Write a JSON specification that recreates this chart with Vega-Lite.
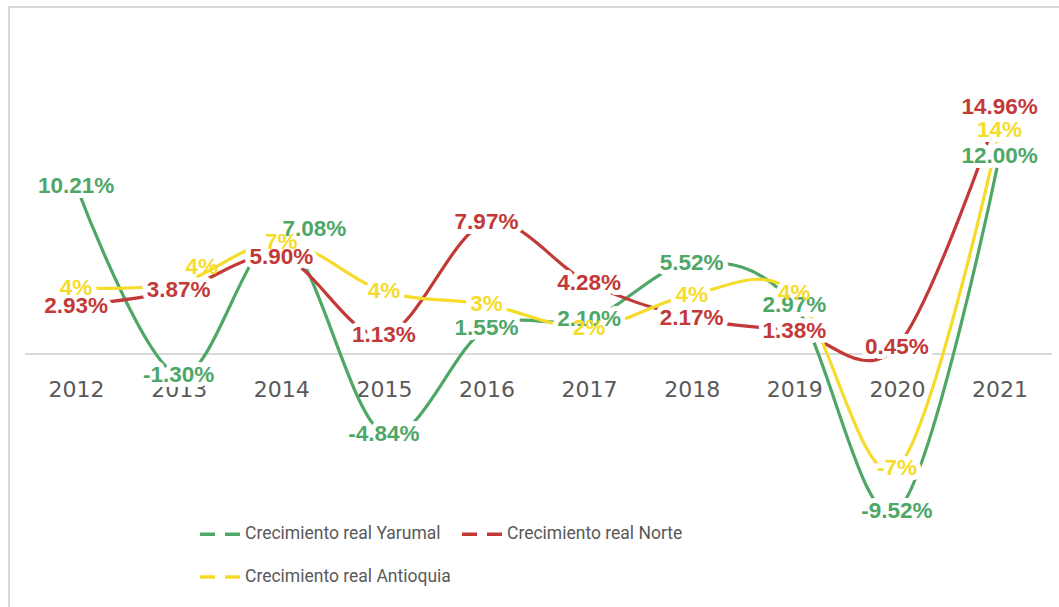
{
  "$schema": "https://vega.github.io/schema/vega-lite/v6.json",
  "autosize": "none",
  "padding": {"left": 9, "top": 7, "right": 0, "bottom": 0},
  "width": 1055,
  "height": 608,
  "config": {
    "view": {"stroke": "#d9d9d9", "strokeWidth": 2},
    "locale": {"number": {"decimal": ".", "thousands": ",", "grouping": [3], "currency": ["$", ""], "minus": "-"}},
    "legend": {"symbolType": "stroke"}
  },
  "data": {"values": [
    {"year": "2012", "series": "Crecimiento real Yarumal", "value": 0.1021},
    {"year": "2013", "series": "Crecimiento real Yarumal", "value": -0.0130},
    {"year": "2014", "series": "Crecimiento real Yarumal", "value": 0.0708},
    {"year": "2015", "series": "Crecimiento real Yarumal", "value": -0.0484},
    {"year": "2016", "series": "Crecimiento real Yarumal", "value": 0.0155},
    {"year": "2017", "series": "Crecimiento real Yarumal", "value": 0.0210},
    {"year": "2018", "series": "Crecimiento real Yarumal", "value": 0.0552},
    {"year": "2019", "series": "Crecimiento real Yarumal", "value": 0.0297},
    {"year": "2020", "series": "Crecimiento real Yarumal", "value": -0.0952},
    {"year": "2021", "series": "Crecimiento real Yarumal", "value": 0.1200},
    {"year": "2012", "series": "Crecimiento real Norte", "value": 0.0293},
    {"year": "2013", "series": "Crecimiento real Norte", "value": 0.0387},
    {"year": "2014", "series": "Crecimiento real Norte", "value": 0.0590},
    {"year": "2015", "series": "Crecimiento real Norte", "value": 0.0113},
    {"year": "2016", "series": "Crecimiento real Norte", "value": 0.0797},
    {"year": "2017", "series": "Crecimiento real Norte", "value": 0.0428},
    {"year": "2018", "series": "Crecimiento real Norte", "value": 0.0217},
    {"year": "2019", "series": "Crecimiento real Norte", "value": 0.0138},
    {"year": "2020", "series": "Crecimiento real Norte", "value": 0.0045},
    {"year": "2021", "series": "Crecimiento real Norte", "value": 0.1496},
    {"year": "2012", "series": "Crecimiento real Antioquia", "value": 0.040},
    {"year": "2013", "series": "Crecimiento real Antioquia", "value": 0.043},
    {"year": "2014", "series": "Crecimiento real Antioquia", "value": 0.068},
    {"year": "2015", "series": "Crecimiento real Antioquia", "value": 0.038},
    {"year": "2016", "series": "Crecimiento real Antioquia", "value": 0.030},
    {"year": "2017", "series": "Crecimiento real Antioquia", "value": 0.016},
    {"year": "2018", "series": "Crecimiento real Antioquia", "value": 0.036},
    {"year": "2019", "series": "Crecimiento real Antioquia", "value": 0.037},
    {"year": "2020", "series": "Crecimiento real Antioquia", "value": -0.069},
    {"year": "2021", "series": "Crecimiento real Antioquia", "value": 0.136}
  ]},
  "encoding": {
    "x": {
      "field": "year", "type": "ordinal",
      "scale": {"type": "point", "padding": 0.641, "align": 0.51},
      "axis": {"title": null, "domain": false, "ticks": false, "grid": false, "labelAngle": 0,
               "labelFont": "DejaVu Sans", "labelFontSize": 22, "labelColor": "#595959",
               "offset": -261, "labelPadding": 25}
    },
    "y": {
      "field": "value", "type": "quantitative",
      "scale": {"domain": [-0.1582, 0.2103], "nice": false, "zero": false},
      "axis": null
    }
  },
  "layer": [
    {
      "mark": {"type": "rule", "color": "#d9d9d9", "strokeWidth": 2, "xOffset": -51, "x2Offset": 52},
      "encoding": {
        "x": {"datum": "2012", "type": "ordinal"},
        "x2": {"datum": "2021"},
        "y": {"datum": 0, "type": "quantitative"}
      }
    },
    {
      "mark": {"type": "line", "interpolate": "cardinal", "strokeWidth": 3.2, "strokeCap": "round"},
      "encoding": {
        "color": {
          "field": "series", "type": "nominal",
          "scale": {"domain": ["Crecimiento real Yarumal", "Crecimiento real Norte", "Crecimiento real Antioquia"],
                    "range": ["#4ea767", "#c23a38", "#f6dc2a"]},
          "legend": {
            "title": null, "orient": "none", "legendX": 189, "legendY": 505, "direction": "horizontal",
            "columns": 2, "columnPadding": 4, "rowPadding": 12, "padding": 0,
            "symbolType": "stroke", "symbolSize": 1600, "symbolStrokeWidth": 3.5, "symbolDash": [15, 10],
            "labelFont": "Roboto", "labelFontSize": 17.5, "labelColor": "#595959",
            "labelOffset": 3, "labelLimit": 400
          }
        },
        "order": {"field": "year"}
      }
    },
    {
      "transform": [{"filter": "datum.series !== 'Crecimiento real Antioquia'"}],
      "mark": {"type": "text", "font": "Liberation Sans", "fontWeight": "bold", "fontSize": 22.5,
               "align": "center", "baseline": "middle", "fill": "white", "stroke": "white", "strokeWidth": 10, "strokeJoin": "round"},
      "encoding": {"text": {"field": "value", "type": "quantitative", "format": ".2%"}}
    },
    {
      "transform": [{"filter": "datum.series === 'Crecimiento real Antioquia'"}],
      "mark": {"type": "text", "font": "Liberation Sans", "fontWeight": "bold", "fontSize": 22.5,
               "align": "center", "baseline": "middle", "fill": "white", "stroke": "white", "strokeWidth": 10, "strokeJoin": "round"},
      "encoding": {"text": {"field": "value", "type": "quantitative", "format": ".0%"}}
    },
    {
      "transform": [{"filter": "datum.series !== 'Crecimiento real Antioquia' && !(datum.series === 'Crecimiento real Yarumal' && datum.year === '2014')"}],
      "mark": {"type": "text", "font": "Liberation Sans", "fontWeight": "bold", "fontSize": 22.5,
               "align": "center", "baseline": "middle"},
      "encoding": {
        "text": {"field": "value", "type": "quantitative", "format": ".2%"},
        "color": {"field": "series", "type": "nominal"}
      }
    },
    {
      "transform": [{"filter": "datum.series === 'Crecimiento real Yarumal' && datum.year === '2014'"}],
      "mark": {"type": "text", "font": "Liberation Sans", "fontWeight": "bold", "fontSize": 22.5,
               "align": "center", "baseline": "middle", "dx": 33, "dy": -8},
      "encoding": {
        "text": {"field": "value", "type": "quantitative", "format": ".2%"},
        "color": {"field": "series", "type": "nominal"}
      }
    },
    {
      "transform": [{"filter": "datum.series === 'Crecimiento real Antioquia' && datum.year !== '2013'"}],
      "mark": {"type": "text", "font": "Liberation Sans", "fontWeight": "bold", "fontSize": 22.5,
               "align": "center", "baseline": "middle"},
      "encoding": {
        "text": {"field": "value", "type": "quantitative", "format": ".0%"},
        "color": {"field": "series", "type": "nominal"}
      }
    },
    {
      "transform": [{"filter": "datum.series === 'Crecimiento real Antioquia' && datum.year === '2013'"}],
      "mark": {"type": "text", "font": "Liberation Sans", "fontWeight": "bold", "fontSize": 22.5,
               "align": "center", "baseline": "middle", "dx": 23, "dy": -16},
      "encoding": {
        "text": {"field": "value", "type": "quantitative", "format": ".0%"},
        "color": {"field": "series", "type": "nominal"}
      }
    }
  ]
}
